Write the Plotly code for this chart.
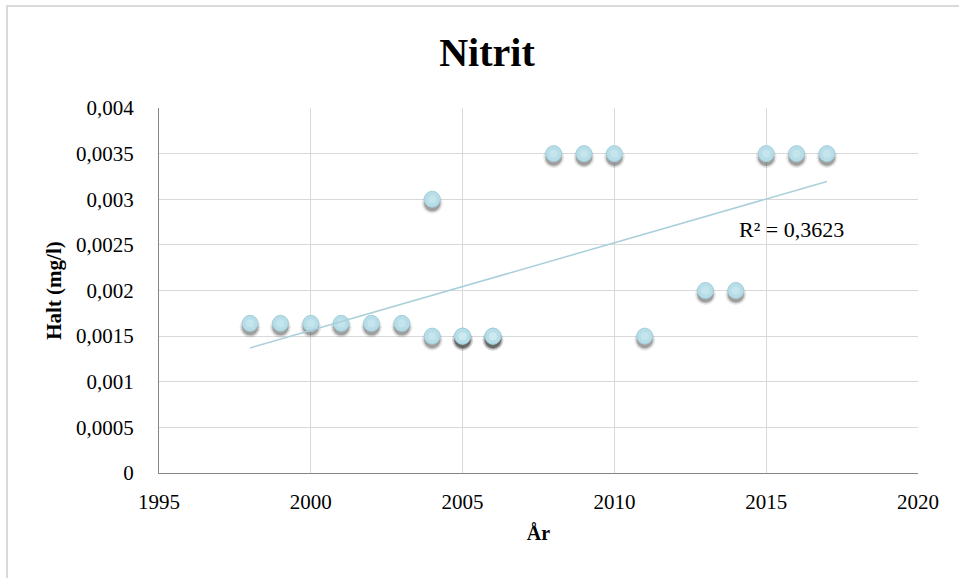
import numpy as np
import plotly.graph_objects as go

# Nitrite measurements per year (mg/l); 2005 and 2006 have two samples each
years = [1998, 1999, 2000, 2001, 2002, 2003, 2004, 2004, 2005, 2005, 2006, 2006,
         2008, 2009, 2010, 2011, 2013, 2014, 2015, 2016, 2017]
values = [0.00164, 0.00164, 0.00164, 0.00164, 0.00164, 0.00164, 0.0015, 0.003,
          0.0015, 0.0015, 0.0015, 0.0015, 0.0035, 0.0035, 0.0035, 0.0015, 0.002, 0.002,
          0.0035, 0.0035, 0.0035]

y_tick_vals = [0, 0.0005, 0.001, 0.0015, 0.002, 0.0025, 0.003, 0.0035, 0.004]
y_tick_text = ["0", "0,0005", "0,001", "0,0015", "0,002", "0,0025", "0,003", "0,0035", "0,004"]
x_tick_vals = [1995, 2000, 2005, 2010, 2015, 2020]
r2_label = "R² = 0,3623"

W, H = 959, 578
margin = dict(l=159, r=41, t=108, b=105)
plot_h = H - margin["t"] - margin["b"]
y_range = [0, 0.004]
x_range = [1995, 2020]

# linear least-squares trend line
xs = np.array(years, dtype=float)
ys = np.array(values, dtype=float)
slope, intercept = np.polyfit(xs, ys, 1)
trend_x = [xs.min(), xs.max()]
trend_y = [slope * x + intercept for x in trend_x]

# soft drop shadow under each marker, a few pixels lower
px_to_y = (y_range[1] - y_range[0]) / plot_h
shadow_y = [v - 4 * px_to_y for v in values]

font = "Liberation Serif, Times New Roman, serif"

fig = go.Figure()
for size, op in [(21, 0.10), (18, 0.16), (16, 0.26)]:
    fig.add_trace(go.Scatter(
        x=years, y=shadow_y, mode="markers",
        marker=dict(size=size, color=f"rgba(40,40,40,{op})", line=dict(width=0)),
        hoverinfo="skip", showlegend=False))
fig.add_trace(go.Scatter(
    x=years, y=values, mode="markers",
    marker=dict(size=16, color="#B7DEE8", line=dict(color="#A3CFDB", width=1)),
    showlegend=False))
fig.add_trace(go.Scatter(
    x=years, y=values, mode="markers",
    marker=dict(size=8, color="rgba(215,238,245,0.45)", line=dict(width=0)),
    hoverinfo="skip", showlegend=False))
fig.add_trace(go.Scatter(
    x=trend_x, y=trend_y, mode="lines",
    line=dict(color="#A9CFDA", width=1.5),
    showlegend=False))

fig.add_annotation(x=2014.05, y=0.002674, xref="x", yref="y", text=r2_label,
                   showarrow=False, xanchor="left", yanchor="middle",
                   font=dict(family=font, size=22, color="#000"))

# outer chart frame
fig.add_shape(type="rect", xref="paper", yref="paper",
              x0=(7 - margin["l"]) / (W - margin["l"] - margin["r"]), x1=1.2,
              y0=-0.4, y1=1 + (margin["t"] - 6) / plot_h,
              line=dict(color="#D9D9D9", width=2), layer="below")

fig.update_layout(
    width=W, height=H, margin=margin,
    paper_bgcolor="white", plot_bgcolor="white",
    title=dict(text="<b>Nitrit</b>", x=487 / W, xanchor="center", y=1 - 52 / H, yanchor="middle",
               font=dict(family=font, size=40, color="#000")),
    font=dict(family=font, size=21, color="#000"),
    xaxis=dict(range=x_range, tickvals=x_tick_vals, showgrid=True, gridcolor="#D9D9D9",
               gridwidth=1, zeroline=False, showline=True, linecolor="#868686", linewidth=1,
               ticks="", ticklabelstandoff=10, tickfont=dict(size=21),
               title=dict(text="<b>År</b>", font=dict(family=font, size=20), standoff=12)),
    yaxis=dict(range=y_range, tickvals=y_tick_vals, ticktext=y_tick_text, showgrid=True,
               gridcolor="#D9D9D9", gridwidth=1, zeroline=False, showline=True,
               linecolor="#868686", linewidth=1, ticks="", ticklabelstandoff=20,
               tickfont=dict(size=21),
               title=dict(text="<b>Halt (mg/l)</b>", font=dict(family=font, size=21), standoff=8)),
)

fig.write_html("out.html")
